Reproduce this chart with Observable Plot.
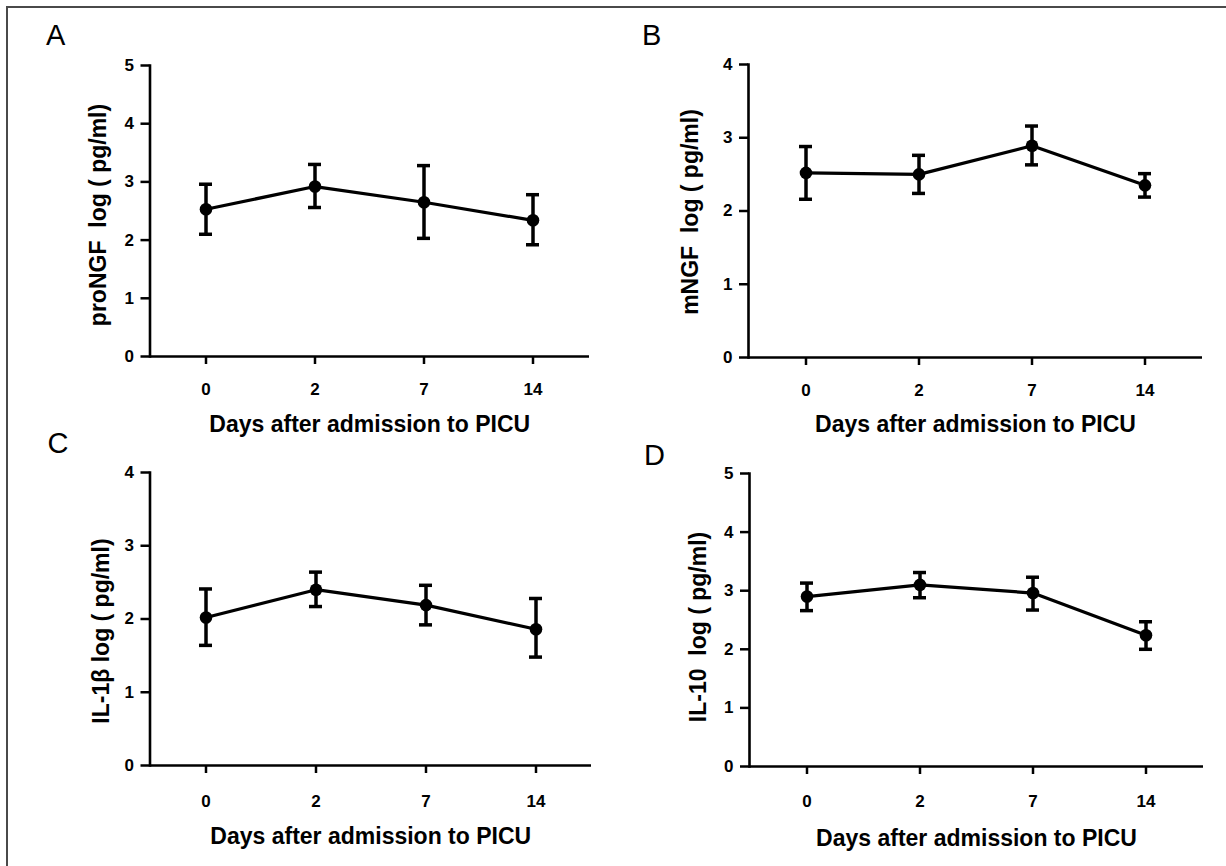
<!DOCTYPE html>
<html><head><meta charset="utf-8">
<script src="https://cdn.jsdelivr.net/npm/d3@7"></script>
<script src="https://cdn.jsdelivr.net/npm/@observablehq/plot@0.6"></script>
<style>
body{margin:0;background:#fff;}
#fig{position:relative;width:1226px;height:866px;overflow:hidden;background:#fff;font-family:"Liberation Sans",Arial,sans-serif;}
#border{position:absolute;left:6px;top:6px;width:1300px;height:900px;border-left:2px solid #4a4a4a;border-top:2px solid #4a4a4a;}
.panel{position:absolute;}
.letter{position:absolute;font-size:29px;line-height:29px;color:#000;font-family:"Liberation Sans",Arial,sans-serif;}
</style></head>
<body><div id="fig"><div id="border"></div></div>
<script>
// categories
const days = ["0", "2", "7", "14"];
const yTicks5 = [0, 1, 2, 3, 4, 5];
const yTicks4 = [0, 1, 2, 3, 4];
const xTitle = "Days after admission to PICU";

// A: proNGF
const proNGFMean = [2.53, 2.92, 2.65, 2.34];
const proNGFLow  = [2.10, 2.56, 2.03, 1.92];
const proNGFHigh = [2.96, 3.30, 3.28, 2.78];
// B: mNGF
const mNGFMean = [2.52, 2.50, 2.89, 2.35];
const mNGFLow  = [2.16, 2.24, 2.63, 2.19];
const mNGFHigh = [2.88, 2.76, 3.16, 2.51];
// C: IL-1β
const il1bMean = [2.02, 2.40, 2.19, 1.86];
const il1bLow  = [1.64, 2.17, 1.92, 1.48];
const il1bHigh = [2.41, 2.64, 2.46, 2.28];
// D: IL-10
const il10Mean = [2.90, 3.10, 2.96, 2.24];
const il10Low  = [2.66, 2.88, 2.67, 2.00];
const il10High = [3.13, 3.31, 3.23, 2.47];

const panels = [
  {letter:"A", yTitle:"proNGF\u00a0\u00a0log ( pg/ml)", mean:proNGFMean, lo:proNGFLow, hi:proNGFHigh, ymax:5, ticks:yTicks5,
   left:0, top:0, ml:149.5, mr:24, mt:65, mb:77, xPad:18, xOff:75, yOff:60, yShift:4, lx:46, ly:20.5},
  {letter:"B", yTitle:"mNGF\u00a0\u00a0log ( pg/ml)", mean:mNGFMean, lo:mNGFLow, hi:mNGFHigh, ymax:4, ticks:yTicks4,
   left:613, top:0, ml:135, mr:24, mt:64, mb:76, xPad:18, xOff:74, yOff:67, yShift:1, lx:642, ly:20.5},
  {letter:"C", yTitle:"IL-1β log ( pg/ml)", mean:il1bMean, lo:il1bLow, hi:il1bHigh, ymax:4, ticks:yTicks4,
   left:0, top:433, ml:149.5, mr:22, mt:39, mb:101, xPad:21, xOff:78, yOff:57, yShift:12, lx:47.5, ly:428.5},
  {letter:"D", yTitle:"IL-10\u00a0\u00a0log ( pg/ml)", mean:il10Mean, lo:il10Low, hi:il10High, ymax:5, ticks:yTicks5,
   left:613, top:433, ml:136, mr:23, mt:40, mb:100, xPad:20, xOff:79, yOff:60, yShift:7, lx:644, ly:441}
];

const fig = document.getElementById("fig");
for (const p of panels) {
  const data = days.map((d, i) => ({day: d, mean: p.mean[i], lo: p.lo[i], hi: p.hi[i]}));
  const chart = Plot.plot({
    width: 613, height: 433,
    marginLeft: p.ml, marginRight: p.mr, marginTop: p.mt, marginBottom: p.mb,
    style: {fontFamily: "'Liberation Sans', Arial, sans-serif", fontSize: "17px", fontWeight: "bold", color: "#000", background: "transparent", overflow: "visible"},
    x: {type: "band", domain: days, paddingInner: 0.882, paddingOuter: 0.441, align: 0.5},
    y: {domain: [0, p.ymax]},
    marks: [
      Plot.ruleY([0], {strokeWidth: 2.6}),
      Plot.frame({anchor: "left", strokeWidth: 2.6}),
      Plot.axisX({tickSize: 8, tickPadding: p.xPad, strokeWidth: 2.5, label: null, fontSize: 17, fontWeight: "bold"}),
      Plot.axisY({ticks: p.ticks, tickSize: 9, tickPadding: 7, strokeWidth: 2.5, label: null, tickFormat: d => String(d), fontSize: 17, fontWeight: "bold"}),
      Plot.text([xTitle], {frameAnchor: "bottom", lineAnchor: "bottom", dy: p.xOff, fontSize: 23, fontWeight: "bold", fill: "#000"}),
      Plot.text([p.yTitle], {frameAnchor: "left", textAnchor: "middle", rotate: -90, lineAnchor: "top", dx: -p.yOff, dy: p.yShift, fontSize: 23, fontWeight: "bold", fill: "#000"}),
      Plot.ruleX(data, {x: "day", y1: "lo", y2: "hi", strokeWidth: 3.5}),
      Plot.tickY(data, {x: "day", y: "hi", strokeWidth: 3.5}),
      Plot.tickY(data, {x: "day", y: "lo", strokeWidth: 3.5}),
      Plot.line(data, {x: "day", y: "mean", strokeWidth: 3.2}),
      Plot.dot(data, {x: "day", y: "mean", r: 6.3, fill: "#000", stroke: "none"})
    ]
  });
  chart.classList.add("panel");
  chart.style.left = p.left + "px";
  chart.style.top = p.top + "px";
  fig.appendChild(chart);
  const lab = document.createElement("div");
  lab.className = "letter";
  lab.textContent = p.letter;
  lab.style.left = p.lx + "px";
  lab.style.top = p.ly + "px";
  fig.appendChild(lab);
}
</script>
</body></html>
